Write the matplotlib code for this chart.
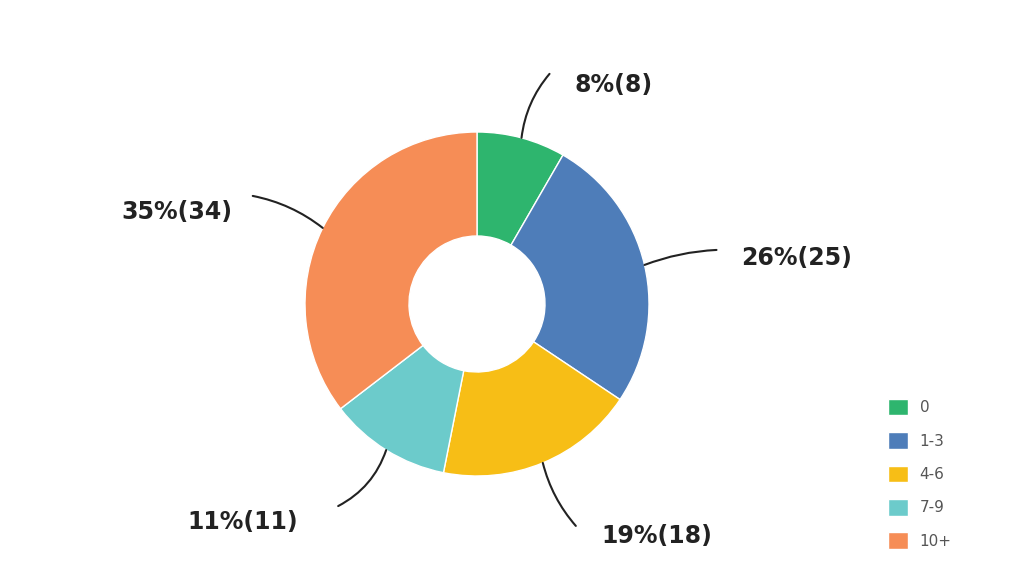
import numpy as np
import matplotlib
matplotlib.use("Agg")
import matplotlib.pyplot as plt

# ── Data ──────────────────────────────────────────────────────────────────────
categories = ["0", "1-3", "4-6", "7-9", "10+"]
counts = [8, 25, 18, 11, 34]
percents = [8, 26, 19, 11, 35]

COLORS = ["#2EB56E", "#4E7DB9", "#F7BE16", "#6CCBCB", "#F68D56"]

# ── Layout (pixel units, y up) ────────────────────────────────────────────────
W, H = 1024, 588
CENTER = (477, 284)
R_OUT, R_IN = 172, 68
# leader line end offsets from wedge edge, label offsets from line end, curve rad
LINE_END = [(28, 64), (72, 15), (33, -63), (-48, -56), (-70, 32)]
LABEL_OFF = [(25, -11), (25, -8), (26, -10), (-40, -16), (-20, -16)]
LABEL_HA = ["left", "left", "left", "right", "right"]
RADS = [0.15, 0.08, -0.12, 0.2, -0.12]

fig = plt.figure(figsize=(W / 100, H / 100), dpi=100)
ax = fig.add_axes([0, 0, 1, 1])

wedges, _ = ax.pie(counts, colors=COLORS, center=CENTER, radius=R_OUT,
                   startangle=90, counterclock=False,
                   wedgeprops=dict(width=R_OUT - R_IN, edgecolor="white", linewidth=1))
ax.set_xlim(0, W)
ax.set_ylim(0, H)
ax.set_aspect("auto")
ax.axis("off")

for i, w in enumerate(wedges):
    mid = np.deg2rad((w.theta1 + w.theta2) / 2)
    ex = CENTER[0] + R_OUT * np.cos(mid)
    ey = CENTER[1] + R_OUT * np.sin(mid)
    lx, ly = ex + LINE_END[i][0], ey + LINE_END[i][1]
    ax.annotate("", xy=(ex, ey), xytext=(lx, ly),
                arrowprops=dict(arrowstyle="-", color="#222222", lw=1.5,
                                shrinkA=0, shrinkB=0,
                                connectionstyle=f"arc3,rad={RADS[i]}"))
    ax.text(lx + LABEL_OFF[i][0], ly + LABEL_OFF[i][1],
            f"{percents[i]}%({counts[i]})", ha=LABEL_HA[i], va="center",
            fontsize=17, fontweight="bold", color="#222222")

leg = ax.legend(wedges, categories, loc="upper left",
                bbox_to_anchor=(880 / W, 1 - 391 / H), frameon=False,
                fontsize=11, handlelength=1.3, handleheight=1.3,
                labelspacing=1.1, handletextpad=0.8, borderpad=0)
for t in leg.get_texts():
    t.set_color("#555555")

plt.savefig("out.png", dpi=100)
plt.close()
